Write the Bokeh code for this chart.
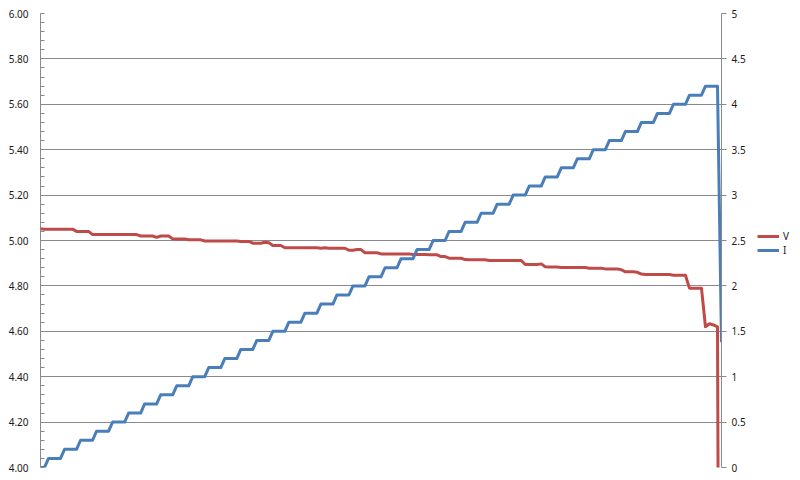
from bokeh.plotting import figure
from bokeh.layouts import row
from bokeh.models import (Range1d, LinearAxis, SingleIntervalTicker, CustomJSTickFormatter,
                          PrintfTickFormatter, Legend, LegendItem)
from bokeh.embed import file_html
from bokeh.resources import INLINE

# ---- data (one value per sample) ----
volts = [
    5.052, 5.05, 5.05, 5.05, 5.05, 5.05, 5.05, 5.05, 5.05, 5.04,
    5.04, 5.04, 5.04, 5.026, 5.026, 5.026, 5.026, 5.026, 5.026, 5.026,
    5.026, 5.026, 5.026, 5.026, 5.026, 5.02, 5.02, 5.02, 5.02, 5.014,
    5.02, 5.02, 5.02, 5.007, 5.007, 5.007, 5.007, 5.003, 5.003, 5.003,
    5.003, 4.998, 4.998, 4.998, 4.998, 4.998, 4.998, 4.998, 4.998, 4.998,
    4.996, 4.996, 4.996, 4.988, 4.988, 4.988, 4.992, 4.99, 4.978, 4.978,
    4.978, 4.968, 4.968, 4.968, 4.968, 4.968, 4.968, 4.968, 4.968, 4.968,
    4.966, 4.968, 4.966, 4.966, 4.966, 4.966, 4.966, 4.957, 4.957, 4.96,
    4.96, 4.946, 4.946, 4.946, 4.946, 4.941, 4.941, 4.941, 4.941, 4.941,
    4.941, 4.941, 4.941, 4.938, 4.938, 4.938, 4.938, 4.937, 4.937, 4.937,
    4.929, 4.929, 4.922, 4.922, 4.922, 4.922, 4.916, 4.915, 4.915, 4.915,
    4.915, 4.915, 4.912, 4.912, 4.912, 4.912, 4.912, 4.912, 4.912, 4.912,
    4.912, 4.894, 4.894, 4.894, 4.894, 4.897, 4.884, 4.883, 4.883, 4.883,
    4.881, 4.881, 4.881, 4.881, 4.881, 4.881, 4.881, 4.878, 4.878, 4.878,
    4.878, 4.875, 4.875, 4.875, 4.875, 4.871, 4.862, 4.862, 4.862, 4.86,
    4.852, 4.85, 4.85, 4.85, 4.85, 4.85, 4.85, 4.85, 4.847, 4.847,
    4.847, 4.847, 4.79, 4.79, 4.79, 4.79, 4.62, 4.633, 4.628, 4.62,
    0.0,
]

amps = [
    0.0, 0.0,
    0.1, 0.1, 0.1, 0.1, 0.2, 0.2, 0.2, 0.2,
    0.3, 0.3, 0.3, 0.3, 0.4, 0.4, 0.4, 0.4,
    0.5, 0.5, 0.5, 0.5, 0.6, 0.6, 0.6, 0.6,
    0.7, 0.7, 0.7, 0.7, 0.8, 0.8, 0.8, 0.8,
    0.9, 0.9, 0.9, 0.9, 1.0, 1.0, 1.0, 1.0,
    1.1, 1.1, 1.1, 1.1, 1.2, 1.2, 1.2, 1.2,
    1.3, 1.3, 1.3, 1.3, 1.4, 1.4, 1.4, 1.4,
    1.5, 1.5, 1.5, 1.5, 1.6, 1.6, 1.6, 1.6,
    1.7, 1.7, 1.7, 1.7, 1.8, 1.8, 1.8, 1.8,
    1.9, 1.9, 1.9, 1.9, 2.0, 2.0, 2.0, 2.0,
    2.1, 2.1, 2.1, 2.1, 2.2, 2.2, 2.2, 2.2,
    2.3, 2.3, 2.3, 2.3, 2.4, 2.4, 2.4, 2.4,
    2.5, 2.5, 2.5, 2.5, 2.6, 2.6, 2.6, 2.6,
    2.7, 2.7, 2.7, 2.7, 2.8, 2.8, 2.8, 2.8,
    2.9, 2.9, 2.9, 2.9, 3.0, 3.0, 3.0, 3.0,
    3.1, 3.1, 3.1, 3.1, 3.2, 3.2, 3.2, 3.2,
    3.3, 3.3, 3.3, 3.3, 3.4, 3.4, 3.4, 3.4,
    3.5, 3.5, 3.5, 3.5, 3.6, 3.6, 3.6, 3.6,
    3.7, 3.7, 3.7, 3.7, 3.8, 3.8, 3.8, 3.8,
    3.9, 3.9, 3.9, 3.9, 4.0, 4.0, 4.0, 4.0,
    4.1, 4.1, 4.1, 4.1, 4.2, 4.2, 4.2, 4.2,
    1.38,
]

sample = list(range(len(volts)))

series_names = ["V", "I"]
v_axis = (4.0, 6.0)
i_axis = (0.0, 5.0)

RED = "#BE4B48"
BLUE = "#4A7EBB"
GRID = "#8a8a8a"
FONT = "Noto Sans"
TXT = "#1a1a1a"

p = figure(width=750, height=480, output_backend="svg", toolbar_location=None,
           x_range=Range1d(0, len(sample) - 1), y_range=Range1d(*v_axis),
           min_border_left=40, min_border_right=29, min_border_top=13, min_border_bottom=13,
           background_fill_color="white", border_fill_color="white")
p.outline_line_color = None
p.xaxis.visible = False
p.xgrid.visible = False

p.extra_y_ranges = {"amps": Range1d(*i_axis)}

ly = p.yaxis[0]
ly.ticker = SingleIntervalTicker(interval=0.2, num_minor_ticks=5)
ly.formatter = PrintfTickFormatter(format="%.2f")
ly.axis_line_color = GRID
ly.major_tick_in = 0
ly.major_tick_out = 0
ly.minor_tick_in = 4
ly.minor_tick_out = 0
ly.minor_tick_line_color = GRID
ly.major_label_standoff = 12
ly.major_label_text_font = FONT
ly.major_label_text_font_size = "10px"
ly.major_label_text_color = TXT

p.ygrid.ticker = ly.ticker
p.ygrid.grid_line_color = GRID
p.ygrid.grid_line_width = 1

ry = LinearAxis(y_range_name="amps",
                ticker=SingleIntervalTicker(interval=0.5, num_minor_ticks=0),
                formatter=CustomJSTickFormatter(code="return String(Math.round(tick*10)/10);"))
ry.axis_line_color = GRID
ry.major_tick_line_color = GRID
ry.major_tick_in = 0
ry.major_tick_out = 5
ry.minor_tick_in = 0
ry.minor_tick_out = 0
ry.major_label_standoff = 5
ry.major_label_text_font = FONT
ry.major_label_text_font_size = "10px"
ry.major_label_text_color = TXT
p.add_layout(ry, "right")

p.line(sample, volts, line_color=RED, line_width=3, line_join="round")
p.line(sample, amps, y_range_name="amps", line_color=BLUE, line_width=3, line_join="round")

# legend panel (separate small figure to the right of the chart)
lp = figure(width=50, height=480, output_backend="svg", toolbar_location=None,
            x_range=Range1d(0, 1), y_range=Range1d(0, 1),
            min_border_left=0, min_border_right=0, min_border_top=0, min_border_bottom=0,
            background_fill_color="white", border_fill_color="white")
lp.outline_line_color = None
lp.axis.visible = False
lp.grid.visible = False
nan = float("nan")
lv = lp.line([nan], [nan], line_color=RED, line_width=3)
li = lp.line([nan], [nan], line_color=BLUE, line_width=3)

legend = Legend(items=[LegendItem(label=series_names[0], renderers=[lv]),
                       LegendItem(label=series_names[1], renderers=[li])],
                location=(7, 210), padding=0, spacing=-5, margin=0,
                glyph_width=22, glyph_height=12, label_height=12, label_standoff=4,
                border_line_color=None, background_fill_alpha=0,
                label_text_font=FONT, label_text_font_size="10px", label_text_color=TXT)
lp.add_layout(legend)

layout = row(p, lp, spacing=0)
open("out.html", "w").write(file_html(layout, INLINE))
